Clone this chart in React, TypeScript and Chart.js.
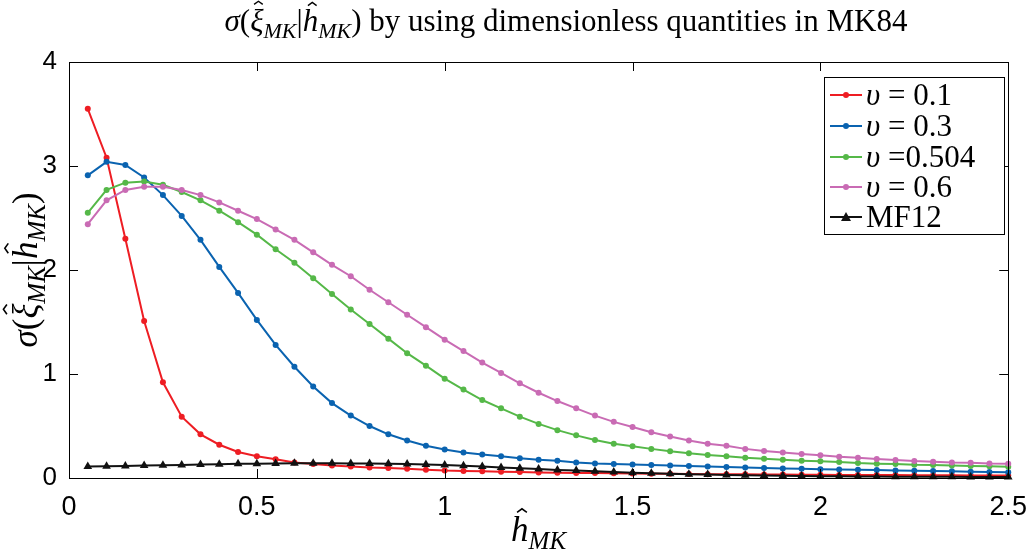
import React, { useEffect, useRef } from "react";
import { Chart, registerables } from "chart.js";
Chart.register(...registerables);

const hValues = [0.05, 0.1, 0.15, 0.2, 0.25, 0.3, 0.35, 0.4, 0.45, 0.5, 0.55, 0.6, 0.65, 0.7, 0.75, 0.8, 0.85, 0.9, 0.95, 1.0, 1.05, 1.1, 1.15, 1.2, 1.25, 1.3, 1.35, 1.4, 1.45, 1.5, 1.55, 1.6, 1.65, 1.7, 1.75, 1.8, 1.85, 1.9, 1.95, 2.0, 2.05, 2.1, 2.15, 2.2, 2.25, 2.3, 2.35, 2.4, 2.45, 2.5];

const sigmaV01 = [3.55, 3.08, 2.30, 1.51, 0.92, 0.59, 0.42, 0.32, 0.25, 0.21, 0.18, 0.15, 0.135, 0.12, 0.11, 0.10, 0.095, 0.088, 0.08, 0.072, 0.068, 0.064, 0.06, 0.057, 0.054, 0.051, 0.049, 0.047, 0.045, 0.043, 0.041, 0.04, 0.038, 0.037, 0.036, 0.035, 0.034, 0.033, 0.032, 0.031, 0.03, 0.029, 0.028, 0.028, 0.027, 0.026, 0.026, 0.025, 0.025, 0.024];

const sigmaV03 = [2.91, 3.04, 3.01, 2.89, 2.72, 2.52, 2.29, 2.03, 1.78, 1.52, 1.28, 1.07, 0.88, 0.72, 0.60, 0.50, 0.42, 0.36, 0.31, 0.275, 0.245, 0.225, 0.21, 0.19, 0.175, 0.165, 0.15, 0.14, 0.135, 0.13, 0.125, 0.12, 0.115, 0.11, 0.105, 0.10, 0.096, 0.092, 0.088, 0.085, 0.082, 0.079, 0.076, 0.073, 0.07, 0.067, 0.064, 0.061, 0.058, 0.055];

const sigmaV0504 = [2.55, 2.77, 2.84, 2.85, 2.82, 2.75, 2.67, 2.57, 2.46, 2.34, 2.20, 2.07, 1.92, 1.77, 1.62, 1.48, 1.34, 1.20, 1.08, 0.955, 0.85, 0.75, 0.67, 0.59, 0.52, 0.46, 0.41, 0.365, 0.33, 0.305, 0.28, 0.257, 0.237, 0.22, 0.208, 0.195, 0.186, 0.176, 0.167, 0.16, 0.154, 0.144, 0.138, 0.135, 0.128, 0.125, 0.12, 0.115, 0.112, 0.108];

const sigmaV06 = [2.44, 2.67, 2.77, 2.80, 2.80, 2.77, 2.72, 2.65, 2.57, 2.49, 2.39, 2.29, 2.17, 2.05, 1.94, 1.81, 1.69, 1.57, 1.45, 1.33, 1.22, 1.11, 1.01, 0.91, 0.82, 0.74, 0.67, 0.60, 0.54, 0.49, 0.44, 0.40, 0.36, 0.33, 0.31, 0.28, 0.26, 0.245, 0.23, 0.218, 0.205, 0.195, 0.183, 0.173, 0.163, 0.157, 0.15, 0.147, 0.14, 0.137];

const sigmaMF12 = [0.11, 0.113, 0.116, 0.12, 0.123, 0.126, 0.13, 0.133, 0.136, 0.138, 0.14, 0.141, 0.141, 0.141, 0.14, 0.139, 0.137, 0.134, 0.13, 0.125, 0.118, 0.11, 0.102, 0.094, 0.086, 0.078, 0.071, 0.064, 0.057, 0.051, 0.046, 0.041, 0.037, 0.033, 0.03, 0.027, 0.024, 0.022, 0.02, 0.018, 0.017, 0.015, 0.014, 0.013, 0.012, 0.011, 0.011, 0.01, 0.01, 0.009];

const seriesLabels = ["υ = 0.1", "υ = 0.3", "υ =0.504", "υ = 0.6", "MF12"];
const seriesColors = ["#ee1d23", "#0a63b0", "#55b848", "#c96bb4", "#111111"];
const xTickValues = [0, 0.5, 1, 1.5, 2, 2.5];
const xTickLabels = ["0", "0.5", "1", "1.5", "2", "2.5"];
const yTickValues = [0, 1, 2, 3, 4];
const yTickLabels = ["0", "1", "2", "3", "4"];

type Seg = { t: string; it?: boolean; sub?: boolean; hat?: number };

const SERIF = "'Liberation Serif', 'DejaVu Serif', serif";

function segFont(s: Seg, size: number) {
  const sz = s.sub ? Math.round(size * 0.7) : size;
  return `${s.it ? "italic " : ""}${sz}px ${SERIF}`;
}

function richWidth(ctx: CanvasRenderingContext2D, segs: Seg[], size: number) {
  let w = 0;
  for (const s of segs) {
    ctx.font = segFont(s, size);
    w += ctx.measureText(s.t).width;
  }
  return w;
}

function drawRich(ctx: CanvasRenderingContext2D, segs: Seg[], x: number, y: number, size: number, align: "center" | "left") {
  const w = richWidth(ctx, segs, size);
  let cx = align === "center" ? x - w / 2 : x;
  ctx.textAlign = "left";
  ctx.textBaseline = "alphabetic";
  for (const s of segs) {
    ctx.font = segFont(s, size);
    const yy = s.sub ? y + size * 0.22 : y;
    ctx.fillText(s.t, cx, yy);
    const tw = ctx.measureText(s.t).width;
    if (s.hat) {
      const cc = cx + tw * 0.62;
      const topY = yy - size * s.hat;
      const hw = size * 0.14;
      const hh = size * 0.1;
      ctx.save();
      ctx.strokeStyle = ctx.fillStyle as string;
      ctx.lineWidth = Math.max(1, size * 0.045);
      ctx.beginPath();
      ctx.moveTo(cc - hw, topY + hh);
      ctx.lineTo(cc, topY);
      ctx.lineTo(cc + hw, topY + hh);
      ctx.stroke();
      ctx.restore();
    }
    cx += tw;
  }
}

const sigmaSegs: Seg[] = [
  { t: "σ", it: true },
  { t: "(" },
  { t: "ξ", it: true, hat: 0.96 },
  { t: "MK", it: true, sub: true },
  { t: "|" },
  { t: "h", it: true, hat: 0.92 },
  { t: "MK", it: true, sub: true },
  { t: ")" },
];
const titleSegs: Seg[] = [...sigmaSegs, { t: " by using dimensionless quantities in MK84" }];
const xLabelSegs: Seg[] = [
  { t: "h", it: true, hat: 0.92 },
  { t: "MK", it: true, sub: true },
];

function legendSegs(label: string): Seg[] {
  if (label.startsWith("υ")) {
    return [{ t: "υ", it: true }, { t: label.slice(1) }];
  }
  return [{ t: label }];
}

const decorPlugin = {
  id: "decor",
  afterDraw(chart: any) {
    const ctx: CanvasRenderingContext2D = chart.ctx;
    const { left, right, top, bottom } = chart.chartArea;
    const xs = chart.scales.x;
    const ys = chart.scales.y;
    ctx.save();
    ctx.strokeStyle = "#000";
    ctx.lineWidth = 1;
    ctx.strokeRect(Math.round(left) + 0.5, Math.round(top) + 0.5, Math.round(right - left), Math.round(bottom - top));
    const tl = 9;
    ctx.beginPath();
    for (const v of xTickValues) {
      const px = Math.round(xs.getPixelForValue(v)) + 0.5;
      ctx.moveTo(px, bottom);
      ctx.lineTo(px, bottom - tl);
      ctx.moveTo(px, top);
      ctx.lineTo(px, top + tl);
    }
    for (const v of yTickValues) {
      const py = Math.round(ys.getPixelForValue(v)) + 0.5;
      ctx.moveTo(left, py);
      ctx.lineTo(left + tl, py);
      ctx.moveTo(right, py);
      ctx.lineTo(right - tl, py);
    }
    ctx.stroke();

    ctx.fillStyle = "#000";
    // title
    drawRich(ctx, titleSegs, 566, 31, 31, "center");
    // x label
    drawRich(ctx, xLabelSegs, (left + right) / 2, 541, 35, "center");
    // y label
    ctx.save();
    ctx.translate(37, (top + bottom) / 2);
    ctx.rotate(-Math.PI / 2);
    drawRich(ctx, sigmaSegs, 0, 0, 35, "center");
    ctx.restore();

    // legend
    const bx = 824, by = 77, bw = 180, bh = 157;
    ctx.fillStyle = "#fff";
    ctx.fillRect(bx, by, bw, bh);
    ctx.strokeStyle = "#000";
    ctx.lineWidth = 1;
    ctx.strokeRect(bx + 0.5, by + 0.5, bw, bh);
    const rowY = [95, 126, 157, 187, 217];
    chart.data.datasets.forEach((ds: any, i: number) => {
      const cy = rowY[i];
      ctx.strokeStyle = ds.borderColor;
      ctx.lineWidth = 2;
      ctx.beginPath();
      ctx.moveTo(830, cy);
      ctx.lineTo(862, cy);
      ctx.stroke();
      ctx.fillStyle = ds.borderColor;
      if (ds.pointStyle === "triangle") {
        ctx.beginPath();
        ctx.moveTo(846, cy - 5);
        ctx.lineTo(851, cy + 4);
        ctx.lineTo(841, cy + 4);
        ctx.closePath();
        ctx.fill();
      } else {
        ctx.beginPath();
        ctx.arc(846, cy, 3, 0, Math.PI * 2);
        ctx.fill();
      }
      ctx.fillStyle = "#000";
      drawRich(ctx, legendSegs(ds.label), 866, cy + 10, 31, "left");
    });
    ctx.restore();
  },
};

export default function App() {
  const ref = useRef<HTMLCanvasElement | null>(null);
  useEffect(() => {
    document.body.style.margin = "0";
    const series = [sigmaV01, sigmaV03, sigmaV0504, sigmaV06, sigmaMF12];
    const datasets = series.map((vals, i) => ({
      label: seriesLabels[i],
      data: hValues.map((h, j) => ({ x: h, y: vals[j] })),
      borderColor: seriesColors[i],
      backgroundColor: seriesColors[i],
      borderWidth: 2,
      pointRadius: i === 4 ? 5 : 3,
      pointStyle: i === 4 ? "triangle" : "circle",
      pointBorderWidth: 0,
      pointBackgroundColor: seriesColors[i],
      tension: 0,
      clip: false as any,
      order: 5 - i,
    }));
    const chart = new Chart(ref.current as HTMLCanvasElement, {
      type: "line",
      data: { datasets },
      options: {
        animation: false,
        responsive: true,
        maintainAspectRatio: false,
        layout: { padding: { top: 62, right: 23, left: 0, bottom: 0 } },
        plugins: { legend: { display: false }, title: { display: false }, tooltip: { enabled: false } },
        scales: {
          x: {
            type: "linear",
            min: 0,
            max: 2.5,
            afterFit: (s: any) => { s.height = 73; },
            afterBuildTicks: (s: any) => { s.ticks = xTickValues.map((v) => ({ value: v })); },
            ticks: {
              color: "#000",
              padding: 5,
              maxRotation: 0,
              font: { family: "'Liberation Sans', Arial, sans-serif", size: 27 },
              callback: (v: any) => xTickLabels[xTickValues.indexOf(Number(v))] ?? String(v),
            },
            grid: { display: false },
            border: { display: true, color: "#000", width: 1 },
          },
          y: {
            type: "linear",
            min: 0,
            max: 4,
            afterFit: (s: any) => { s.width = 69; },
            afterBuildTicks: (s: any) => { s.ticks = yTickValues.map((v) => ({ value: v })); },
            ticks: {
              color: "#000",
              padding: 4,
              font: { family: "'Liberation Sans', Arial, sans-serif", size: 26 },
              callback: (v: any) => yTickLabels[yTickValues.indexOf(Number(v))] ?? String(v),
            },
            grid: { display: false },
            border: { display: true, color: "#000", width: 1 },
          },
        },
      },
      plugins: [decorPlugin],
    });
    return () => chart.destroy();
  }, []);
  return (
    <div style={{ position: "fixed", left: 0, top: 0, width: 1032, height: 551, background: "#fff" }}>
      <canvas ref={ref} />
    </div>
  );
}
